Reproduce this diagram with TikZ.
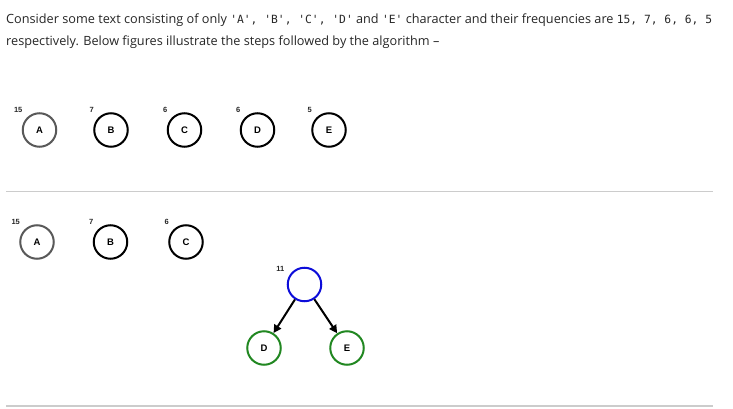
\documentclass[tikz,border=0pt]{standalone}
\usepackage{fontspec}
\setmainfont{Open Sans}
\setsansfont{Liberation Sans}
\setmonofont{DejaVu Sans Mono}[Scale=0.89]
\definecolor{txtdark}{gray}{0.15}
\definecolor{rulegray}{gray}{0.80}
\definecolor{leafgray}{gray}{0.35}
\definecolor{inblue}{rgb}{0.05,0.05,0.85}
\definecolor{leafgreen}{rgb}{0.13,0.53,0.13}
\usetikzlibrary{arrows.meta,positioning}
\newcommand{\qch}[1]{\texttt{\textquotesingle #1\textquotesingle}}
\tikzset{
  chr/.style={circle,draw,line width=2pt,minimum size=33.5pt,inner sep=0pt,
    font=\sffamily\bfseries\fontsize{9.5}{9.5}\selectfont},
  frq/.style={font=\sffamily\bfseries\fontsize{7.5}{7.5}\selectfont,txtdark},
  sepln/.style={rulegray,line width=1.2pt},
  edgarr/.style={-{Triangle[length=8pt,width=8pt]},line width=2pt},
}

\begin{document}
\begin{tikzpicture}[x=1pt,y=-1pt]
    \useasboundingbox (0,0) rectangle (733,409);
    % intro text
    \node[anchor=base west,inner sep=0pt,txtdark,font=\fontsize{12.7}{15}\selectfont] (intro1) at (6,23.5)
      {Consider some text consisting of only \qch{A}\texttt{, }\qch{B}\texttt{, }\qch{C}\texttt{, }\qch{D} and \qch{E} character and their frequencies are \texttt{15, 7, 6, 6, 5}};
    \node[anchor=base west,inner sep=0pt,txtdark,font=\fontsize{12.7}{15}\selectfont] (intro2) at (6,45.5)
      {respectively. Below figures illustrate the steps followed by the algorithm --};
    % step 1: all characters
    \foreach \c/\x/\f/\col in {A/39.5/15/leafgray,B/111/7/black,C/184.5/6/black,D/257.5/6/black,E/329/5/black}
      \node[chr,draw=\col,label={[frq,label distance=1.5pt]135:\f}] (s1\c) at (\x,130) {\c};
    \draw[sepln] (6,191.5) -- (713,191.5);
    % step 2: D and E merged
    \foreach \c/\x/\f/\col in {A/37/15/leafgray,B/110.5/7/black,C/186/6/black}
      \node[chr,draw=\col,label={[frq,label distance=1.5pt]135:\f}] (s2\c) at (\x,242) {\c};
    \node[chr,draw=inblue,label={[frq,label distance=1.5pt]150:11}] (s2DE) at (304.5,284.5) {};
    \node[chr,draw=leafgreen] (s2D) at (264,348) {D};
    \node[chr,draw=leafgreen] (s2E) at (347,348) {E};
    \draw[edgarr] (s2DE) -- (s2D);
    \draw[edgarr] (s2DE) -- (s2E);
    \draw[sepln] (6,406) -- (713,406);
\end{tikzpicture}
\end{document}
